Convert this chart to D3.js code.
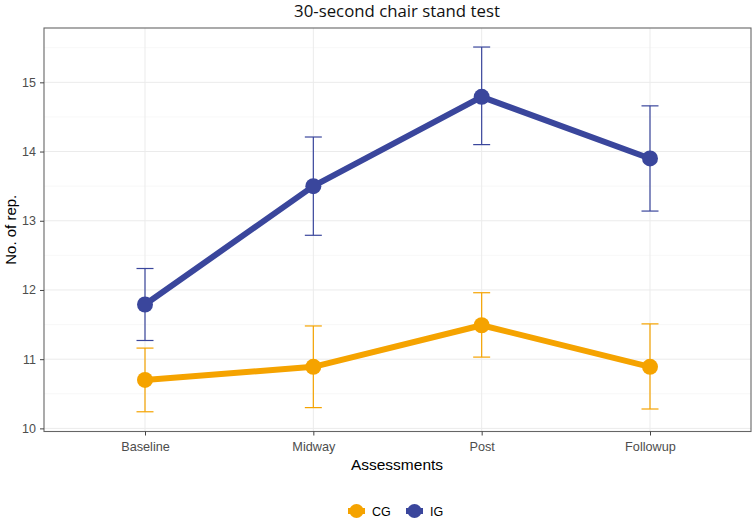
<!DOCTYPE html>
<html><head><meta charset="utf-8">
<script src="https://cdn.jsdelivr.net/npm/d3@7"></script>
<style>body{margin:0;background:#fff}svg{display:block}</style>
</head><body>
<svg id="c" width="752" height="520"></svg>
<script>
const categories = ["Baseline","Midway","Post","Followup"];
const groups = ["CG","IG"];
const cgMean = [10.7, 10.89, 11.49, 10.89];
const cgLow  = [10.24, 10.30, 11.03, 10.28];
const cgHigh = [11.16, 11.48, 11.96, 11.51];
const igMean = [11.79, 13.5, 14.79, 13.9];
const igLow  = [11.27, 12.79, 14.10, 13.14];
const igHigh = [12.31, 14.21, 15.51, 14.66];
const yTicks = [10, 11, 12, 13, 14, 15];
const colors = {CG: "#F5A300", IG: "#3A469C"};

const series = [
  {name: "CG", mean: cgMean, low: cgLow, high: cgHigh},
  {name: "IG", mean: igMean, low: igLow, high: igHigh}
];

const svg = d3.select("#c");
const L = 44, R = 751, T = 28, B = 431.5;
const FONT = "Liberation Sans, Arial, sans-serif";

const x = d3.scalePoint().domain(categories).range([L, R]).padding(0.6);
const y = d3.scaleLinear().domain([9.955, 15.785]).range([B, T]);

// grid
const g = svg.append("g");
const minor = d3.range(10.5, 15.6, 1);
g.selectAll(".mn").data(minor).join("line")
  .attr("x1", L).attr("x2", R).attr("y1", d => y(d)).attr("y2", d => y(d))
  .attr("stroke", "#f2f2f2").attr("stroke-width", 0.6);
g.selectAll(".mj").data(yTicks).join("line")
  .attr("x1", L).attr("x2", R).attr("y1", d => y(d)).attr("y2", d => y(d))
  .attr("stroke", "#ebebeb").attr("stroke-width", 1);
g.selectAll(".vx").data(categories).join("line")
  .attr("y1", T).attr("y2", B).attr("x1", d => x(d)).attr("x2", d => x(d))
  .attr("stroke", "#ebebeb").attr("stroke-width", 1);

// series
const line = d3.line().x((d, i) => x(categories[i])).y(d => y(d));
series.forEach(s => {
  const c = colors[s.name];
  const sg = svg.append("g");
  categories.forEach((cat, i) => {
    const cx = x(cat);
    sg.append("line").attr("x1", cx).attr("x2", cx).attr("y1", y(s.low[i])).attr("y2", y(s.high[i]))
      .attr("stroke", c).attr("stroke-width", 1.2);
    [s.low[i], s.high[i]].forEach(v => {
      sg.append("line").attr("x1", cx - 8.5).attr("x2", cx + 8.5).attr("y1", y(v)).attr("y2", y(v))
        .attr("stroke", c).attr("stroke-width", 1.2);
    });
  });
  sg.append("path").datum(s.mean).attr("d", line).attr("fill", "none")
    .attr("stroke", c).attr("stroke-width", 6).attr("stroke-linejoin", "round");
  sg.selectAll("circle").data(s.mean).join("circle")
    .attr("cx", (d, i) => x(categories[i])).attr("cy", d => y(d)).attr("r", 8).attr("fill", c);
});

// panel border
svg.append("rect").attr("x", L).attr("y", T).attr("width", R - L).attr("height", B - T)
  .attr("fill", "none").attr("stroke", "#666").attr("stroke-width", 1.1);

// axes
const xa = svg.append("g").attr("transform", `translate(0,${B})`)
  .call(d3.axisBottom(x).tickSize(4).tickPadding(6));
xa.select(".domain").remove();
xa.selectAll("line").attr("stroke", "#444");
xa.selectAll("text").attr("fill", "#4d4d4d").style("font-family", FONT).style("font-size", "12.7px");

const ya = svg.append("g").attr("transform", `translate(${L},0)`)
  .call(d3.axisLeft(y).tickValues(yTicks).tickFormat(d3.format("d")).tickSize(4).tickPadding(4));
ya.select(".domain").remove();
ya.selectAll("line").attr("stroke", "#444");
ya.selectAll("text").attr("fill", "#4d4d4d").style("font-family", FONT).style("font-size", "12.5px");

// titles
svg.append("text").attr("x", 397).attr("y", 17).attr("text-anchor", "middle")
  .style("font-family", "Open Sans, sans-serif").style("font-size", "16.8px").attr("fill", "#111")
  .text("30-second chair stand test");
svg.append("text").attr("x", 397).attr("y", 470).attr("text-anchor", "middle")
  .style("font-family", FONT).style("font-size", "15.5px").attr("fill", "#000")
  .text("Assessments");
svg.append("text").attr("transform", `translate(16,${(T + B) / 2}) rotate(-90)`).attr("text-anchor", "middle")
  .style("font-family", FONT).style("font-size", "15px").attr("fill", "#000")
  .text("No. of rep.");

// legend
const lg = svg.append("g").attr("transform", "translate(348,511)");
const keyX = [0, 58];
groups.forEach((n, i) => {
  const k = lg.append("g").attr("transform", `translate(${keyX[i]},0)`);
  k.append("line").attr("x1", 0).attr("x2", 17).attr("y1", 0).attr("y2", 0)
    .attr("stroke", colors[n]).attr("stroke-width", 6);
  k.append("circle").attr("cx", 8.5).attr("cy", 0).attr("r", 7).attr("fill", colors[n]);
  k.append("text").attr("x", 24).attr("y", 4.5)
    .style("font-family", FONT).style("font-size", "12.5px").attr("fill", "#000")
    .text(n);
});
</script>
</body></html>
